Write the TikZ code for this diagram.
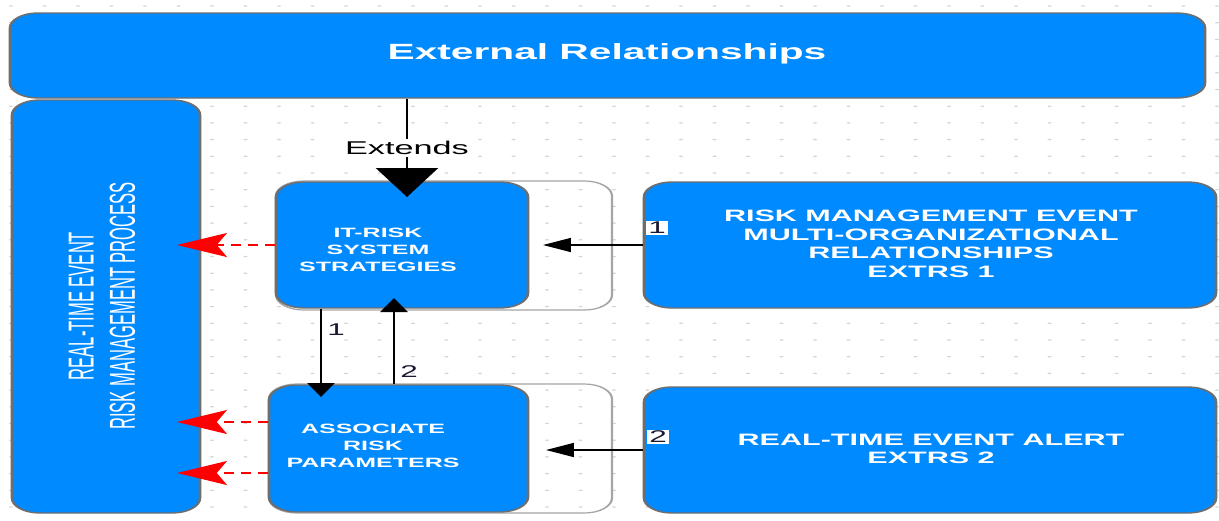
\documentclass[tikz,border=0pt]{standalone}
\usepackage{fontspec}
\setmainfont{Liberation Sans}
\newfontfamily\narrowsans[FakeStretch=0.85]{Liberation Sans}
\usetikzlibrary{arrows.meta,fit}

\definecolor{boxblue}{RGB}{0,138,255}
\definecolor{boxedge}{RGB}{110,110,110}
\definecolor{frameedge}{RGB}{165,165,165}
\definecolor{griddot}{RGB}{212,212,212}
\definecolor{numink}{RGB}{25,25,50}

\tikzset{
  bluebox/.style={draw=boxedge, line width=1.4pt, fill=boxblue, rounded corners=15pt, inner sep=0pt},
  framebox/.style={draw=frameedge, line width=1.2pt, rounded corners=15pt, inner sep=0pt},
  innertext/.style={text=white, align=center, inner sep=0pt, font=\bfseries\fontsize{13.5}{17}\selectfont},
  outertext/.style={text=white, align=center, inner sep=0pt, font=\bfseries\fontsize{16.5}{18.6}\selectfont},
  titletext/.style={text=white, inner sep=0pt, font=\bfseries\fontsize{22}{25}\selectfont},
  sidetext/.style={text=white, align=center, inner sep=0pt, rotate=90, font=\narrowsans\fontsize{19.5}{22.2}\selectfont},
  numlabel/.style={text=numink, inner sep=1.2pt, font=\fontsize{17}{19}\selectfont},
  boxednum/.style={numlabel, fill=white},
  extendsarrow/.style={draw=black, line width=1.4pt, -{Triangle[length=29pt,width=33.5pt]}},
  flowarrow/.style={draw=black, line width=1.4pt, -{Triangle[length=14pt,width=14.6pt]}},
  feedarrow/.style={draw=black, line width=1.2pt, -{Triangle[length=15pt,width=14pt]}},
  reportarrow/.style={draw=red, line width=1.2pt, dash pattern=on 5.4pt off 3.8pt,
    -{Stealth[length=27pt,width=24pt,inset=5.5pt]}},
}

\begin{document}
\begin{tikzpicture}
\useasboundingbox (0pt,0pt) rectangle (1219pt,-520pt);
\fill[white] (0pt,0pt) rectangle (1219pt,-520pt);

% the diagram is laid out on a horizontally stretched canvas
\begin{scope}[x=0.540541pt, y=-1pt, transform canvas={xscale=1.85}]

  % dotted background grid
  \foreach \i in {0,...,36}
    \foreach \j in {0,...,31}
      \fill[griddot] (11+33.5*\i, 6+16.7*\j) ellipse[x radius=1.1pt, y radius=0.7pt];

  % boxes
  \node[bluebox, fit={(10,13) (1205,98)}] (ext) {};
  \node[bluebox, fit={(12,100) (200,513)}] (rtm) {};
  \node[framebox, fit={(276,181) (612,310)}] (itframe) {};
  \node[framebox, fit={(269,384) (612,513)}] (asframe) {};
  \node[bluebox, fit={(276,182) (528,308)}] (itrisk) {};
  \node[bluebox, fit={(269,385) (528,512)}] (assoc) {};
  \node[bluebox, fit={(644,182) (1216,308)}] (rme) {};
  \node[bluebox, fit={(644,387) (1216,513)}] (alert) {};

  % box captions
  \node[titletext] (exttxt) at (607,54) {External Relationships};
  \node[sidetext] (rtmtxt) at (102,306) {REAL-TIME EVENT\\RISK MANAGEMENT PROCESS};
  \node[innertext] (ittxt) at (378,250) {IT-RISK\\SYSTEM\\STRATEGIES};
  \node[innertext] (astxt) at (373,446) {ASSOCIATE\\RISK\\PARAMETERS};
  \node[outertext] (rmetxt) at (931,244) {RISK MANAGEMENT EVENT\\MULTI-ORGANIZATIONAL\\RELATIONSHIPS\\EXTRS 1};
  \node[outertext] (alerttxt) at (931,449) {REAL-TIME EVENT ALERT\\EXTRS 2};

  % arrow end points
  \coordinate (extend) at (407,197);
  \coordinate (downend) at (321,397);
  \coordinate (upend) at (394,298);
  \coordinate (feed1) at (543,245);
  \coordinate (feed2) at (546,450);
  \coordinate (rep1) at (177,245);
  \coordinate (rep2) at (177,422);
  \coordinate (rep3) at (177,473);

  % connectors
  \draw[extendsarrow] (ext.south -| extend) -- node[fill=white, inner sep=2pt,
     font=\fontsize{18.5}{20}\selectfont] (extlbl) {Extends} (extend);
  \draw[flowarrow] (itrisk.south -| downend) -- (downend);
  \draw[flowarrow] (assoc.north -| upend) -- (upend);
  \node[numlabel] (n1) at (336,330) {1};
  \node[numlabel] (n2) at (409,372) {2};

  \draw[feedarrow] (rme.west) -- (feed1);
  \draw[feedarrow] (alert.west |- feed2) -- (feed2);
  \node[boxednum] (b1) at (657,228) {1};
  \node[boxednum] (b2) at (658,437) {2};

  \draw[reportarrow] (itrisk.west) -- (rep1);
  \draw[reportarrow] (assoc.west |- rep2) -- (rep2);
  \draw[reportarrow] (assoc.west |- rep3) -- (rep3);
\end{scope}
\end{tikzpicture}
\end{document}
